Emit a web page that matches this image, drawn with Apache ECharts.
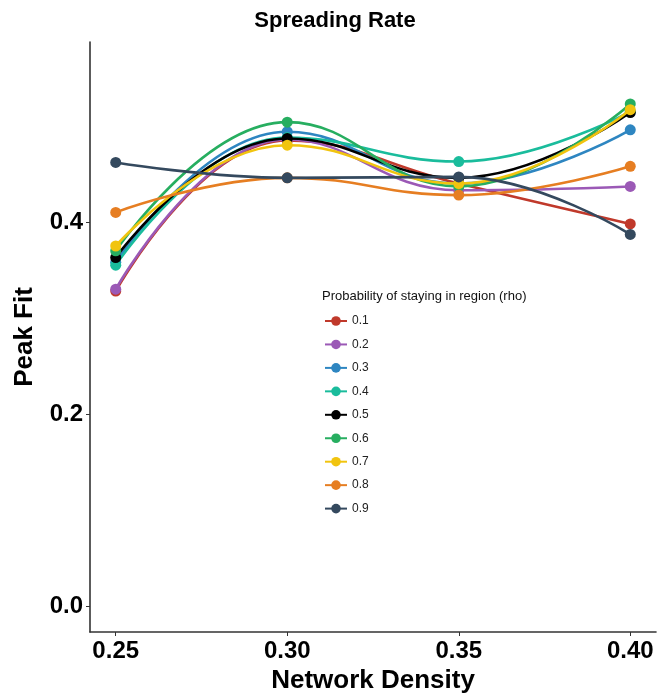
<!DOCTYPE html>
<html>
<head>
<meta charset="utf-8">
<script src="https://cdn.jsdelivr.net/npm/echarts@6/dist/echarts.min.js"></script>
<style>
html,body{margin:0;padding:0;background:#fff;}
#chart{width:660px;height:697px;}
</style>
</head>
<body>
<div id="chart"></div>
<script>
var densities = [0.25, 0.30, 0.35, 0.40];
var rhoLabels = ['0.1','0.2','0.3','0.4','0.5','0.6','0.7','0.8','0.9'];
var rho01 = [0.328, 0.485, 0.440, 0.398];
var rho02 = [0.330, 0.486, 0.433, 0.437];
var rho03 = [0.358, 0.494, 0.440, 0.496];
var rho04 = [0.355, 0.488, 0.463, 0.515];
var rho05 = [0.363, 0.487, 0.446, 0.514];
var rho06 = [0.370, 0.504, 0.437, 0.523];
var rho07 = [0.375, 0.480, 0.440, 0.517];
var rho08 = [0.410, 0.446, 0.428, 0.458];
var rho09 = [0.462, 0.446, 0.447, 0.387];
var seriesValues = [rho01, rho02, rho03, rho04, rho05, rho06, rho07, rho08, rho09];
var colors = ['#C0392B','#9B59B6','#2E86C1','#1ABC9C','#000000','#27AE60','#F1C40F','#E67E22','#34495E'];
var xTicks = [0.25, 0.30, 0.35, 0.40];
var yTicks = [0.0, 0.2, 0.4];

var chart = echarts.init(document.getElementById('chart'), null, {renderer:'canvas'});
var series = rhoLabels.map(function(name, i){
  return {
    name: name,
    type: 'line',
    smooth: 0.45,
    symbol: 'circle',
    symbolSize: 11,
    showSymbol: true,
    lineStyle: {width: 2.6, color: colors[i]},
    itemStyle: {color: colors[i]},
    emphasis: {disabled: true},
    z: 2 + i,
    data: densities.map(function(d, j){ return [d, seriesValues[i][j]]; })
  };
});

var option = {
  animation: false,
  backgroundColor: '#ffffff',
  color: colors,
  title: [{
    text: 'Spreading Rate',
    left: 330, top: 5, textAlign: 'center',
    textStyle: {fontFamily: 'Liberation Sans', fontWeight: 'bold', fontSize: 22, color: '#000'}
  }],
  graphic: [{
    type: 'text', left: 322, top: 290,
    style: {text: 'Probability of staying in region (rho)', font: '13px "Liberation Sans"', fill: '#111'}
  }],
  legend: {
    orient: 'vertical',
    left: 324, top: 315, padding: 0,
    itemWidth: 22, itemHeight: 12, itemGap: 11.45,
    data: rhoLabels,
    textStyle: {fontFamily: 'Liberation Sans', fontSize: 12, color: '#222'},
    selectedMode: false
  },
  grid: {left: 90, right: 4, top: 42, bottom: 65, containLabel: false, outerBoundsMode: 'none'},
  xAxis: {
    type: 'value',
    min: 0.2425, max: 0.4075,
    name: 'Network Density', nameLocation: 'middle', nameGap: 36,
    nameTextStyle: {fontFamily: 'Liberation Sans', fontWeight: 'bold', fontSize: 26, color: '#000'},
    axisLine: {show: true, onZero: false, lineStyle: {color: '#333', width: 1.6}},
    axisTick: {show: true, length: 4, lineStyle: {color: '#333'}, customValues: xTicks},
    axisLabel: {customValues: xTicks, formatter: function(v){ return v.toFixed(2); }, margin: 7,
      fontFamily: 'Liberation Sans', fontWeight: 'bold', fontSize: 24, color: '#000'},
    splitLine: {show: false}
  },
  yAxis: {
    type: 'value',
    min: -0.0271, max: 0.5875,
    name: 'Peak Fit', nameLocation: 'middle', nameGap: 52, nameRotate: 90,
    nameTextStyle: {fontFamily: 'Liberation Sans', fontWeight: 'bold', fontSize: 26, color: '#000'},
    axisLine: {show: true, onZero: false, lineStyle: {color: '#333', width: 1.6}},
    axisTick: {show: true, length: 4, lineStyle: {color: '#333'}, customValues: yTicks},
    axisLabel: {customValues: yTicks, formatter: function(v){ return v.toFixed(1); }, margin: 7,
      fontFamily: 'Liberation Sans', fontWeight: 'bold', fontSize: 24, color: '#000'},
    splitLine: {show: false}
  },
  series: series
};
chart.setOption(option);
</script>
</body>
</html>
